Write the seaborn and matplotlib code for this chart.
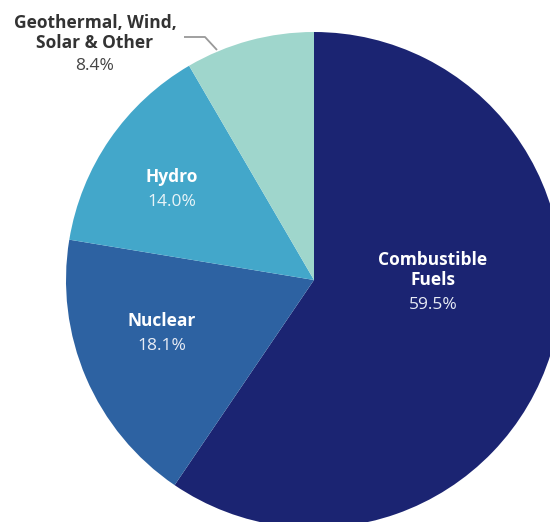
import matplotlib
matplotlib.use("Agg")
import matplotlib.pyplot as plt
import seaborn as sns

sns.set_theme(style="white")
plt.rcParams['font.family'] = ['Open Sans', 'DejaVu Sans']

categories = ["Combustible\nFuels", "Nuclear", "Hydro", "Geothermal, Wind,\nSolar & Other"]
values = [59.5, 18.1, 14.0, 8.4]
pct_labels = ["59.5%", "18.1%", "14.0%", "8.4%"]
colors = sns.color_palette(["#1b2472", "#2d62a2", "#43a7ca", "#9fd6cc"])

W, H = 550, 522
cx, cy, R = 314, 280, 248

fig = plt.figure(figsize=(W / 100, H / 100), dpi=100)
ax = fig.add_axes([0, 0, 1, 1])
ax.pie(values, colors=colors, startangle=90, counterclock=False, radius=1,
       wedgeprops=dict(linewidth=0))
ax.set_xlim(-cx / R, (W - cx) / R)
ax.set_ylim(-(H - cy) / R, cy / R)
ax.set_aspect('equal')
ax.axis('off')

def d(px, py):
    return (px - cx) / R, (cy - py) / R

# label pixel positions (name center, pct center)
pos = [((433, 270), (433, 305)), ((162, 321), (162, 346)), ((172, 177), (172, 202)), ((95, 33), (95, 66))]
name_colors = ["white", "white", "white", "#333333"]
pct_colors = ["#e8ecf5", "#e8ecf5", "#e8f4f8", "#444444"]

for name, pct, (npos, ppos), nc, pc in zip(categories, pct_labels, pos, name_colors, pct_colors):
    ax.text(*d(*npos), name, ha='center', va='center', fontsize=12.5, fontweight='bold',
            color=nc, linespacing=1.12)
    ax.text(*d(*ppos), pct, ha='center', va='center', fontsize=12.5, color=pc)

# leader line for small slice
xs = [d(184, 37)[0], d(205, 37)[0], d(217, 50)[0]]
ys = [d(184, 37)[1], d(205, 37)[1], d(217, 50)[1]]
ax.plot(xs, ys, color="#999999", linewidth=1.3, solid_capstyle='butt')

fig.savefig("out.png", dpi=100)
